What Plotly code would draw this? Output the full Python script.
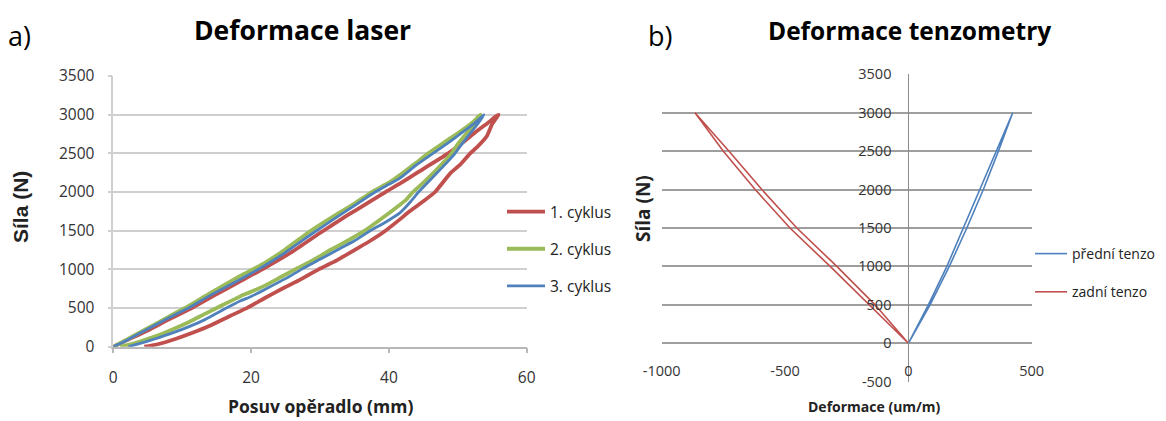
import plotly.graph_objects as go

# ---- a) laser: force vs. backrest displacement, three load cycles (loading then unloading)
c1_x = [0, 2, 5, 8, 11.6, 15, 18.4, 22, 26, 30, 34, 37, 39.5, 42, 45, 48.6, 51, 52.5, 54.3, 55.9,
        55, 54.2, 52.8, 51.8, 50.3, 49, 47.8, 46.7, 45, 43, 41.5, 39.5, 37.3, 35, 32.5, 29.8, 27,
        24.5, 22, 19.5, 17, 14, 11.5, 9, 7, 5.5, 4.5]
c1_y = [0, 85, 210, 350, 510, 680, 845, 1020, 1230, 1470, 1700, 1862, 2000, 2130, 2300, 2500, 2660,
        2770, 2890, 3000,
        2880, 2720, 2580, 2500, 2350, 2250, 2120, 2000, 1880, 1750, 1640, 1500, 1370, 1250, 1120,
        1000, 860, 750, 630, 505, 400, 270, 180, 100, 45, 15, 0]

c2_x = [0, 2, 5, 8, 10.4, 14, 18.4, 22, 25, 28.5, 32, 35, 37.5, 40, 41.6, 44, 45.7, 48, 50, 52, 53.3,
        52.3, 51.2, 50, 49.1, 47.8, 46.5, 45, 43.5, 42.5, 41.6, 39, 36.5, 34, 31.5, 29, 26.4, 24, 22,
        20, 18.4, 16, 13.3, 11, 8.5, 6, 4, 2.5, 1]
c2_y = [0, 95, 240, 385, 500, 690, 915, 1085, 1260, 1490, 1690, 1850, 2000, 2120, 2220, 2380, 2500,
        2640, 2760, 2890, 3000,
        2860, 2750, 2620, 2500, 2370, 2250, 2120, 2000, 1900, 1835, 1660, 1500, 1370, 1250, 1120,
        1000, 885, 790, 710, 650, 545, 425, 320, 220, 130, 70, 30, 0]

c3_x = [0, 2, 5, 8, 11.1, 14, 18.4, 22, 25, 29, 32, 35, 38, 40, 41.6, 44, 46.4, 48.5, 50.5, 52.3, 53.8,
        52.8, 51.7, 50.6, 49.6, 48.3, 47, 45.6, 44.3, 43.2, 41.6, 39.5, 37.3, 35, 32.5, 30, 27.3, 25,
        22, 20, 18.4, 16, 13.3, 11, 8.5, 6, 4, 2.2]
c3_y = [0, 85, 230, 370, 510, 660, 870, 1050, 1220, 1470, 1650, 1825, 2000, 2100, 2180, 2350, 2500,
        2630, 2760, 2880, 3000,
        2870, 2750, 2620, 2500, 2370, 2250, 2120, 2000, 1880, 1730, 1610, 1500, 1370, 1250, 1130,
        1000, 880, 740, 650, 590, 480, 350, 260, 175, 100, 45, 0]

cycle_names = ["1. cyklus", "2. cyklus", "3. cyklus"]

# ---- b) strain gauges: force vs. strain (um/m), front and rear gauge
tz_y = [0, 500, 1000, 1500, 2000, 2500, 3000, 2500, 2000, 1500, 1000, 500, 0]
front_x = [0, 81, 156, 223, 291, 358, 423, 365, 304, 237, 166, 88, 0]
rear_x = [0, -135, -290, -452, -594, -727, -865, -750, -621, -480, -317, -158, 0]
gauge_names = ["přední tenzo", "zadní tenzo"]

# tick positions / labels of panel b (plain hyphen as the minus sign)
b_xticks = [-1000, -500, 0, 500]
b_xlabels = ["-1000", "-500", "0", "500"]
b_yticks = [-500, 0, 500, 1000, 1500, 2000, 2500, 3000, 3500]
b_ylabels = ["-500", "0", "500", "1000", "1500", "2000", "2500", "3000", "3500"]

RED, GREEN, BLUE = "#c0504d", "#9bbb59", "#4f81bd"
FONT = "Open Sans"
W, H = 1166, 421


def fx(p):
    return p / W


def fy(p):
    return 1 - p / H


fig = go.Figure()

for xs, ys, name, col, w in [(c1_x, c1_y, cycle_names[0], RED, 3.8),
                             (c2_x, c2_y, cycle_names[1], GREEN, 3.8),
                             (c3_x, c3_y, cycle_names[2], BLUE, 2.8)]:
    fig.add_trace(go.Scatter(x=xs, y=ys, name=name, mode="lines",
                             line=dict(color=col, width=w, shape="spline", smoothing=0.5),
                             legendgroup=name, legend="legend",
                             xaxis="x", yaxis="y"))

for xs, name, col in [(front_x, gauge_names[0], BLUE), (rear_x, gauge_names[1], RED)]:
    fig.add_trace(go.Scatter(x=xs, y=tz_y, name=name, mode="lines",
                             line=dict(color=col, width=1.6),
                             legendgroup=name, legend="legend2",
                             xaxis="x2", yaxis="y2"))

# plot-area geometry in pixels
L_X0, L_X1, L_Y0, L_Y1 = 113.3, 526.7, 76.0, 346.7
R_X0, R_X1, R_Y0, R_Y1 = 661.7, 1031.7, 74.3, 381.7

ry_dom = [fy(R_Y1), fy(R_Y0)]
rx_dom = [fx(R_X0), fx(R_X1)]
x_axis_pos = ry_dom[0] + (0 - (-500)) / 4000 * (ry_dom[1] - ry_dom[0])
y_axis_pos = rx_dom[0] + (0 - (-1000)) / 1500 * (rx_dom[1] - rx_dom[0])

left_ticks = dict(family=FONT, size=15.5, color="#333333")
right_ticks = dict(family=FONT, size=14.5, color="#333333")

fig.update_layout(
    width=W, height=H, margin=dict(l=0, r=0, t=0, b=0, autoexpand=False),
    paper_bgcolor="white", plot_bgcolor="white",
    showlegend=True,
    xaxis=dict(domain=[fx(L_X0), fx(L_X1)], range=[0, 60], tickvals=[0, 20, 40, 60],
               showgrid=False, zeroline=False, showline=True, linecolor="#b8b8b8", linewidth=1.5,
               ticks="outside", ticklen=5, tickcolor="#b8b8b8", tickwidth=1.5,
               ticklabelstandoff=11, tickfont=left_ticks, anchor="y", automargin=False),
    yaxis=dict(domain=[fy(L_Y1), fy(L_Y0)], range=[0, 3500], dtick=500,
               showgrid=True, gridcolor="#cfcfcf", gridwidth=1.8, zeroline=False,
               showline=True, linecolor="#cfcfcf", linewidth=1.5,
               ticks="outside", ticklen=4, tickcolor="#cfcfcf", tickwidth=1.5,
               ticklabelstandoff=10, tickfont=left_ticks, anchor="x", automargin=False),
    xaxis2=dict(domain=rx_dom, range=[-1000, 500], tickvals=b_xticks, ticktext=b_xlabels,
                showgrid=False, zeroline=False, showline=False,
                ticks="", anchor="free", position=x_axis_pos,
                ticklabelstandoff=17, tickfont=right_ticks, automargin=False),
    yaxis2=dict(domain=ry_dom, range=[-500, 3500], tickvals=b_yticks, ticktext=b_ylabels,
                showgrid=True, gridcolor="#9e9e9e", gridwidth=1.8, zeroline=False,
                showline=True, linecolor="#8c8c8c", linewidth=1,
                ticks="", anchor="free", position=y_axis_pos,
                ticklabelstandoff=14, tickfont=right_ticks, automargin=False),
    legend=dict(x=fx(502), y=fy(195), xanchor="left", yanchor="top",
                font=dict(family=FONT, size=15.5, color="#222222"),
                traceorder="grouped", tracegroupgap=14, itemwidth=38,
                bgcolor="rgba(0,0,0,0)"),
    legend2=dict(x=fx(1030), y=fy(238), xanchor="left", yanchor="top",
                 font=dict(family=FONT, size=14, color="#222222"),
                 traceorder="grouped", tracegroupgap=17, itemwidth=32,
                 bgcolor="rgba(0,0,0,0)"),
)

annotations = [
    dict(text="a)", x=fx(6), y=fy(35), xanchor="left", yanchor="middle",
         font=dict(family=FONT, size=27, color="black")),
    dict(text="<b>Deformace laser</b>", x=fx(302), y=fy(30), xanchor="center", yanchor="middle",
         font=dict(family=FONT, size=26.5, color="black")),
    dict(text="b)", x=fx(646), y=fy(36), xanchor="left", yanchor="middle",
         font=dict(family=FONT, size=27, color="black")),
    dict(text="<b>Deformace tenzometry</b>", x=fx(910), y=fy(30), xanchor="center", yanchor="middle",
         font=dict(family=FONT, size=24.5, color="black")),
    dict(text="<b>Síla (N)</b>", x=fx(20), y=fy(207), xanchor="center", yanchor="middle",
         textangle=-90, font=dict(family="Liberation Sans", size=21, color="#222222")),
    dict(text="<b>Posuv opěradlo (mm)</b>", x=fx(320), y=fy(406), xanchor="center", yanchor="middle",
         font=dict(family=FONT, size=17.5, color="#222222")),
    dict(text="<b>Síla (N)</b>", x=fx(643), y=fy(209), xanchor="center", yanchor="middle",
         textangle=-90, font=dict(family=FONT, size=19, color="#222222")),
    dict(text="<b>Deformace (um/m)</b>", x=fx(874), y=fy(406), xanchor="center", yanchor="middle",
         font=dict(family=FONT, size=14, color="#222222")),
]
for a in annotations:
    a.update(xref="paper", yref="paper", showarrow=False)
fig.update_layout(annotations=annotations)

fig.write_html("out.html")
